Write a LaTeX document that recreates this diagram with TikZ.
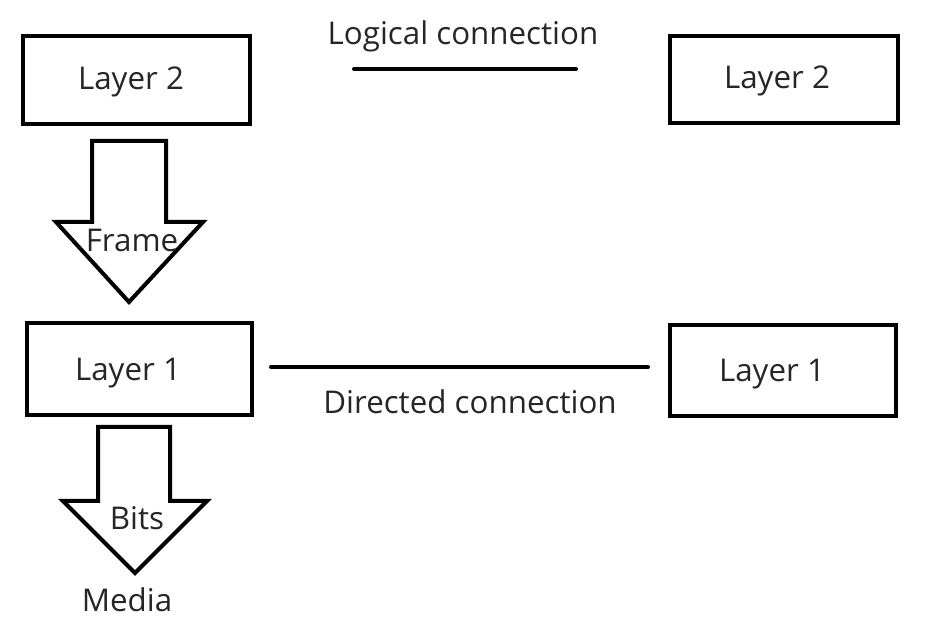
\documentclass[tikz,border=0pt]{standalone}
\usepackage{fontspec}
\setmainfont{Open Sans}
\begin{document}
\begin{tikzpicture}[x=0.75pt,y=-0.75pt,
  box/.style={draw,line width=3pt},
  lbl/.style={font=\fontsize{23.5}{27}\selectfont,text=black!85,inner sep=0pt},
  conn/.style={line width=3pt,line cap=round},
  bigarrow/.style={draw,line width=3pt,line join=miter,fill=white}]
\useasboundingbox (0,0) rectangle (940,634);
% boxes
\draw[box] (23,36) rectangle (250,124);
\draw[box] (670,36) rectangle (898,123);
\draw[box] (27,323) rectangle (252,415);
\draw[box] (670,325) rectangle (896,416);
\node[lbl] (l2a) at (131,82) {Layer 2};
\node[lbl] (l2b) at (777,81) {Layer 2};
\node[lbl] (l1a) at (128,373) {Layer 1};
\node[lbl] (l1b) at (772,374) {Layer 1};
% connections
\coordinate (lc1) at (354,69);
\coordinate (lc2) at (576,69);
\draw[conn] (lc1) -- (lc2);
\node[lbl] (lctext) at (463,36) {Logical connection};
\coordinate (dc1) at (271,367);
\coordinate (dc2) at (648,367);
\draw[conn] (dc1) -- (dc2);
\node[lbl] (dctext) at (470,402) {Directed connection};
% frame arrow
\draw[bigarrow] (92,141) -- (166,141) -- (166,222) -- (203,222) -- (129,302) -- (56,222) -- (92,222) -- cycle;
\node[lbl] (frame) at (132,240) {Frame};
% bits arrow
\draw[bigarrow] (98,427) -- (170,427) -- (170,501) -- (207,501) -- (135,573) -- (63,501) -- (98,501) -- cycle;
\node[lbl] (bits) at (137,518) {Bits};
\node[lbl] (media) at (127,600) {Media};
\end{tikzpicture}
\end{document}
